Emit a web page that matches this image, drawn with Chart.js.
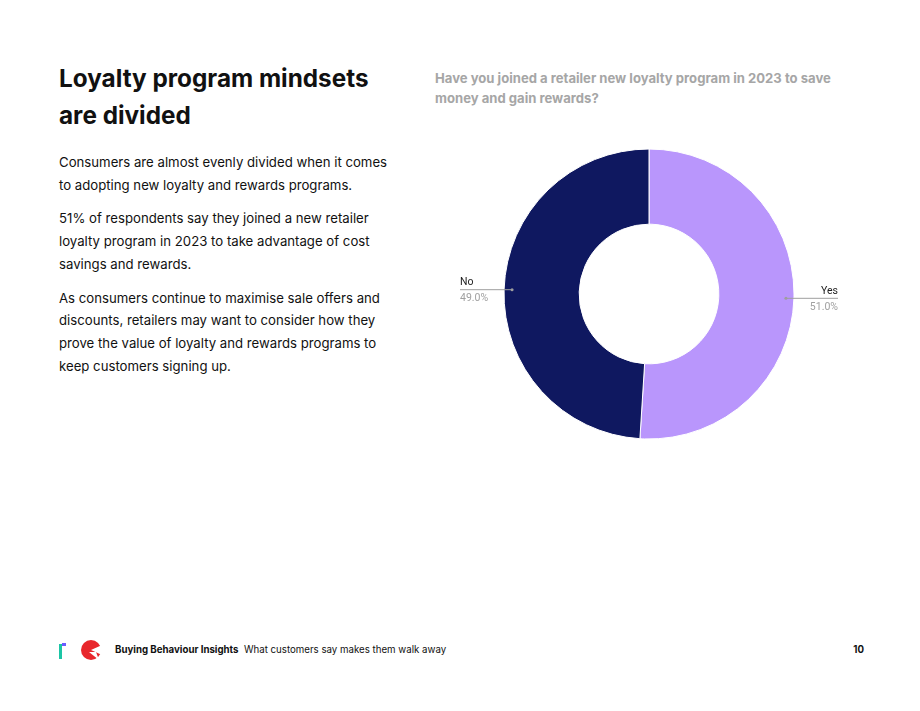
<!DOCTYPE html>
<html>
<head>
<meta charset="utf-8">
<script src="https://cdn.jsdelivr.net/npm/chart.js@4/dist/chart.umd.min.js"></script>
<style>
body { margin: 0; background: #fff; font-family: Inter, "Open Sans", sans-serif; color: #111; }
#page { position: relative; width: 920px; height: 711px; overflow: hidden; }
h1 { position: absolute; left: 59px; top: 60px; margin: 0; font-size: 24.3px; line-height: 37px; font-weight: 700; width: 340px; }
#body { position: absolute; left: 59px; top: 151px; width: 340px; font-size: 13.2px; line-height: 22.7px; }
#body p { margin: 0 0 11px 0; }
#question { position: absolute; left: 435px; top: 68px; width: 420px; font-size: 13.1px; line-height: 20px; font-weight: 700; color: #a6a6a6; }
#chartBox { position: absolute; left: 429px; top: 144px; width: 440px; height: 300px; }
#footer { position: absolute; left: 58px; top: 639px; width: 806px; height: 22px; font-size: 9.7px; }
#footer .t { position: absolute; left: 57px; top: 5px; }
#footer .n { position: absolute; right: 0; top: 5px; font-weight: 700; }
</style>
</head>
<body>
<div id="page">
  <h1>Loyalty program mindsets are divided</h1>
  <div id="body">
    <p>Consumers are almost evenly divided when it comes to adopting new loyalty and rewards programs.</p>
    <p>51% of respondents say they joined a new retailer loyalty program in 2023 to take advantage of cost savings and rewards.</p>
    <p>As consumers continue to maximise sale offers and discounts, retailers may want to consider how they prove the value of loyalty and rewards programs to keep customers signing up.</p>
  </div>
  <div id="question">Have you joined a retailer new loyalty program in 2023 to save money and gain rewards?</div>
  <div id="chartBox"><canvas id="myChart"></canvas></div>
  <div id="footer">
    <svg width="48" height="22" style="position:absolute;left:0;top:0">
      <rect x="1" y="5" width="3" height="15" fill="#1cc5a5"/>
      <rect x="4" y="4" width="4" height="3" fill="#6a5cff"/>
      <circle cx="33" cy="11" r="10" fill="#e8262b"/>
      <path d="M33 11 L44 6 L44 16 Z" fill="#fff"/>
      <path d="M31 13 L38 13 L41 21 Z" fill="#fff"/>
    </svg>
    <span class="t"><b>Buying Behaviour Insights</b>&nbsp; What customers say makes them walk away</span>
    <span class="n">10</span>
  </div>
</div>
<script>
// survey answers
let labels = ["Yes", "No"];
let values = [51.0, 49.0];
let colors = ["#b996fc", "#0f1860"];

// leader lines + labels outside the ring
const sideLabels =
{
    id: "sideLabels",
    afterDatasetsDraw(chart)
    {
        const ctx = chart.ctx;
        const arcs = chart.getDatasetMeta(0).data;
        arcs.forEach(function(arc, i)
        {
            const mid = (arc.startAngle + arc.endAngle) / 2;
            const r = arc.outerRadius - 8;
            const px = arc.x + Math.cos(mid) * r;
            const py = arc.y + Math.sin(mid) * r;
            const right = Math.cos(mid) > 0;
            const ex = right ? arc.x + 189 : arc.x - 189;

            ctx.save();
            ctx.strokeStyle = "#9e9e9e";
            ctx.lineWidth = 1;
            ctx.beginPath();
            ctx.moveTo(px, py);
            ctx.lineTo(ex, py);
            ctx.stroke();
            ctx.fillStyle = "#9e9e9e";
            ctx.beginPath();
            ctx.arc(px, py, 1.5, 0, Math.PI * 2);
            ctx.fill();

            ctx.textAlign = right ? "right" : "left";
            ctx.textBaseline = "middle";
            ctx.font = "10.5px Roboto, sans-serif";
            ctx.fillStyle = "#222";
            ctx.fillText(labels[i], ex, py - 7);
            ctx.fillStyle = "#a0a0a0";
            ctx.fillText(values[i].toFixed(1) + "%", ex, py + 9);
            ctx.restore();
        });
    }
};

new Chart(document.getElementById("myChart"),
{
    type: "doughnut",
    data:
    {
        labels: labels,
        datasets:
        [
            {
                data: values,
                backgroundColor: colors,
                borderColor: "#ffffff",
                borderWidth: 1
            }
        ]
    },
    options:
    {
        responsive: true,
        maintainAspectRatio: false,
        animation: false,
        radius: 145,
        cutout: 72,
        plugins:
        {
            legend: { display: false },
            tooltip: { enabled: false }
        }
    },
    plugins: [sideLabels]
});
</script>
</body>
</html>
